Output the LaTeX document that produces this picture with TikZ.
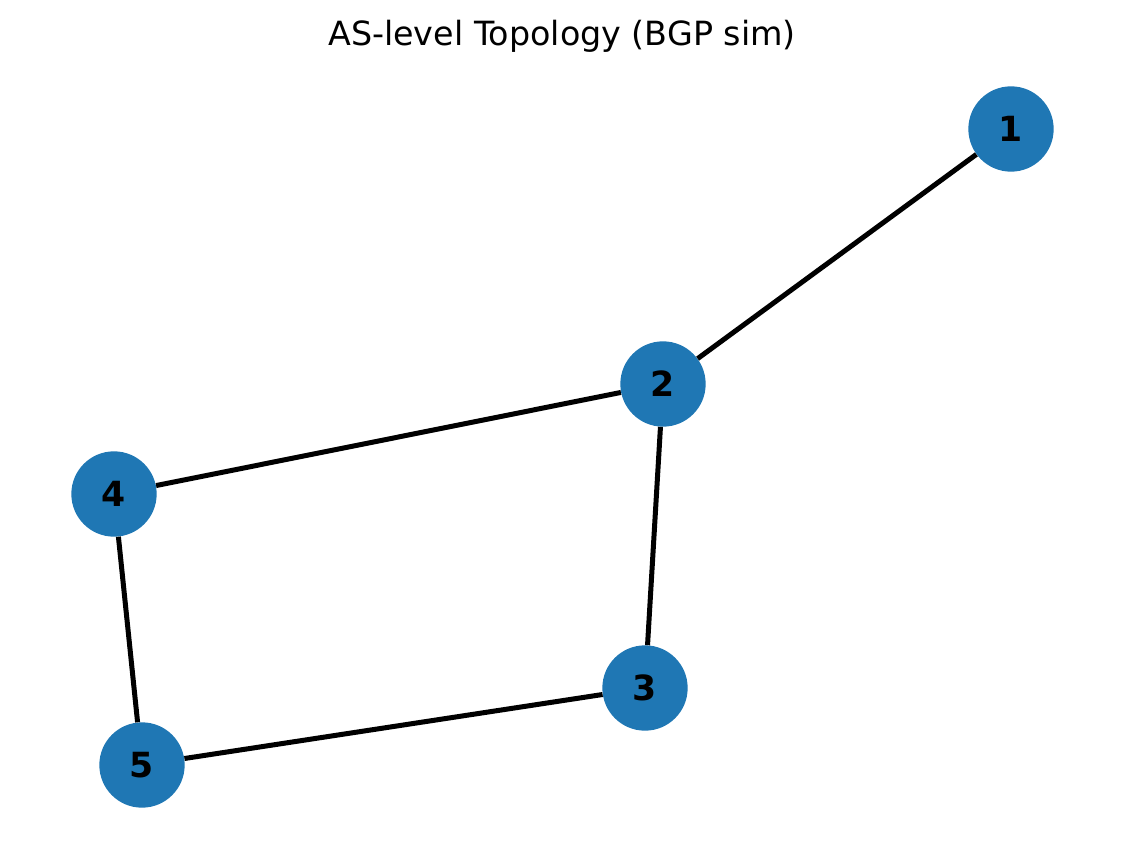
\documentclass[tikz,border=0pt]{standalone}
\usepackage{fontspec}
\setmainfont{DejaVu Sans}
\definecolor{asblue}{HTML}{1F77B4}

\begin{document}
\begin{tikzpicture}[x=0.75pt,y=-0.75pt,
		asnode/.style={circle,fill=asblue,minimum size=64pt,inner sep=0pt,font=\fontsize{26}{31}\selectfont\bfseries},
		aslink/.style={line width=3.75pt}]
	\useasboundingbox (0,0) rectangle (1124,852);
	\node[font=\fontsize{25}{30}\selectfont] (title) at (562,36) {AS-level Topology (BGP sim)};
	\node[asnode] (as1) at (1011,129) {1};
	\node[asnode] (as2) at (663,384) {2};
	\node[asnode] (as3) at (645,688) {3};
	\node[asnode] (as4) at (114,494) {4};
	\node[asnode] (as5) at (142,765) {5};
	\draw[aslink] (as1) -- (as2);
	\draw[aslink] (as2) -- (as4);
	\draw[aslink] (as2) -- (as3);
	\draw[aslink] (as4) -- (as5);
	\draw[aslink] (as5) -- (as3);
\end{tikzpicture}
\end{document}
